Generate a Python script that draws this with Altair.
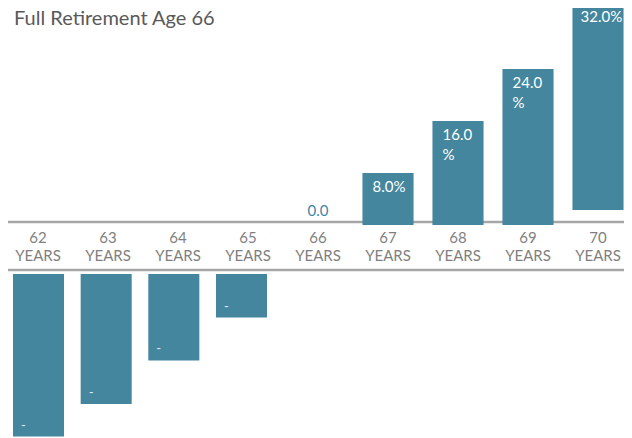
import altair as alt
import pandas as pd

ages = ["62", "63", "64", "65", "66", "67", "68", "69", "70"]
values = [-25.0, -20.0, -13.3, -6.7, 0.0, 8.0, 16.0, 24.0, 32.0]
labels = ["-", "-", "-", "-", "0.0", "8.0%", "16.0\n%", "24.0\n%", "32.0%"]
cat_labels = [a + "\nYEARS" for a in ages]
title_text = "Full Retirement Age 66"

df = pd.DataFrame({"age": ages, "value": values, "label": labels, "cat": cat_labels})

BAR = "#43869e"
FONT = "Lato"

base = alt.Chart(df)

xP = alt.X("age:N", scale=alt.Scale(domain=ages, range=[-5, 625], paddingInner=0.27, paddingOuter=0.135), axis=None)
neg_ages = ages[:4]
xN = alt.X("age:N", scale=alt.Scale(domain=neg_ages, range=[-3.33, 267.33], paddingInner=0.246, paddingOuter=0.123), axis=None)
yP = alt.Y("value:Q", scale=alt.Scale(domain=[0, 32], range=[217, 9]), axis=None)
yP70 = alt.Y("value:Q", scale=alt.Scale(domain=[0, 32], range=[202, -6]), axis=None)
yN = alt.Y("value:Q", scale=alt.Scale(domain=[0, -25], range=[266, 428.5]), axis=None)
zeroP = alt.Y2(datum=0)

rule_top = base.mark_rule(color="#a6a6a6", strokeWidth=2.5).encode(
    x=alt.value(-8), x2=alt.value(624), y=alt.value(214)
).transform_filter(alt.datum.age == "62")
rule_bot = base.mark_rule(color="#a6a6a6", strokeWidth=2.5).encode(
    x=alt.value(-5), x2=alt.value(624), y=alt.value(262)
).transform_filter(alt.datum.age == "62")

pos_bars = base.transform_filter(
    (alt.datum.value > 0) & (alt.datum.age != "70")
).mark_bar(color=BAR).encode(x=xP, y=yP, y2=zeroP)

bar70 = base.transform_filter(alt.datum.age == "70").mark_bar(color=BAR).encode(
    x=xP, y=yP70, y2=zeroP
)

neg_bars = base.transform_filter(alt.datum.value < 0).mark_bar(color=BAR).encode(
    x=xN, y=yN, y2=alt.Y2(datum=0)
)

cats = base.mark_text(
    font=FONT, fontSize=15, color="#7f7f7f", align="center", baseline="top",
    lineBreak="\n", lineHeight=18
).encode(x=xP, y=alt.value(223), text="cat:N")

pos_labels = base.transform_filter(
    (alt.datum.value > 0) & (alt.datum.age != "70")
).mark_text(
    font=FONT, fontSize=15, color="white", align="left", baseline="top",
    lineBreak="\n", lineHeight=20, dx=-15.5, dy=7
).encode(x=xP, y=yP, text="label:N")

label70 = base.transform_filter(alt.datum.age == "70").mark_text(
    font=FONT, fontSize=15, color="white", align="left", baseline="top",
    lineBreak="\n", lineHeight=20, dx=-17.5, dy=8
).encode(x=xP, y=yP70, text="label:N")

zero_label = base.transform_filter(alt.datum.value == 0).mark_text(
    font=FONT, fontSize=15, color="#3f86a6", align="center", baseline="alphabetic", dy=-9
).encode(x=xP, y=yP, text="label:N")

neg_labels = base.transform_filter(alt.datum.value < 0).mark_text(
    font=FONT, fontSize=13, color="#dce9ee", align="left", baseline="alphabetic",
    dx=-17.5, dy=-7
).encode(x=xN, y=yN, text="label:N")

title = base.transform_filter(alt.datum.age == "62").mark_text(
    font=FONT, fontSize=20, color="#595959", align="left", baseline="top"
).encode(x=alt.value(6), y=alt.value(1), text=alt.value(title_text))

chart = alt.layer(
    rule_top, rule_bot, pos_bars, bar70, neg_bars, cats, pos_labels, label70,
    zero_label, neg_labels, title
).resolve_scale(x="independent", y="independent").properties(
    width=616, height=430, padding=0, autosize=alt.AutoSizeParams(type="none")
).configure_view(stroke=None)

chart.save("out.html", embed_options={"renderer": "svg", "actions": False})
